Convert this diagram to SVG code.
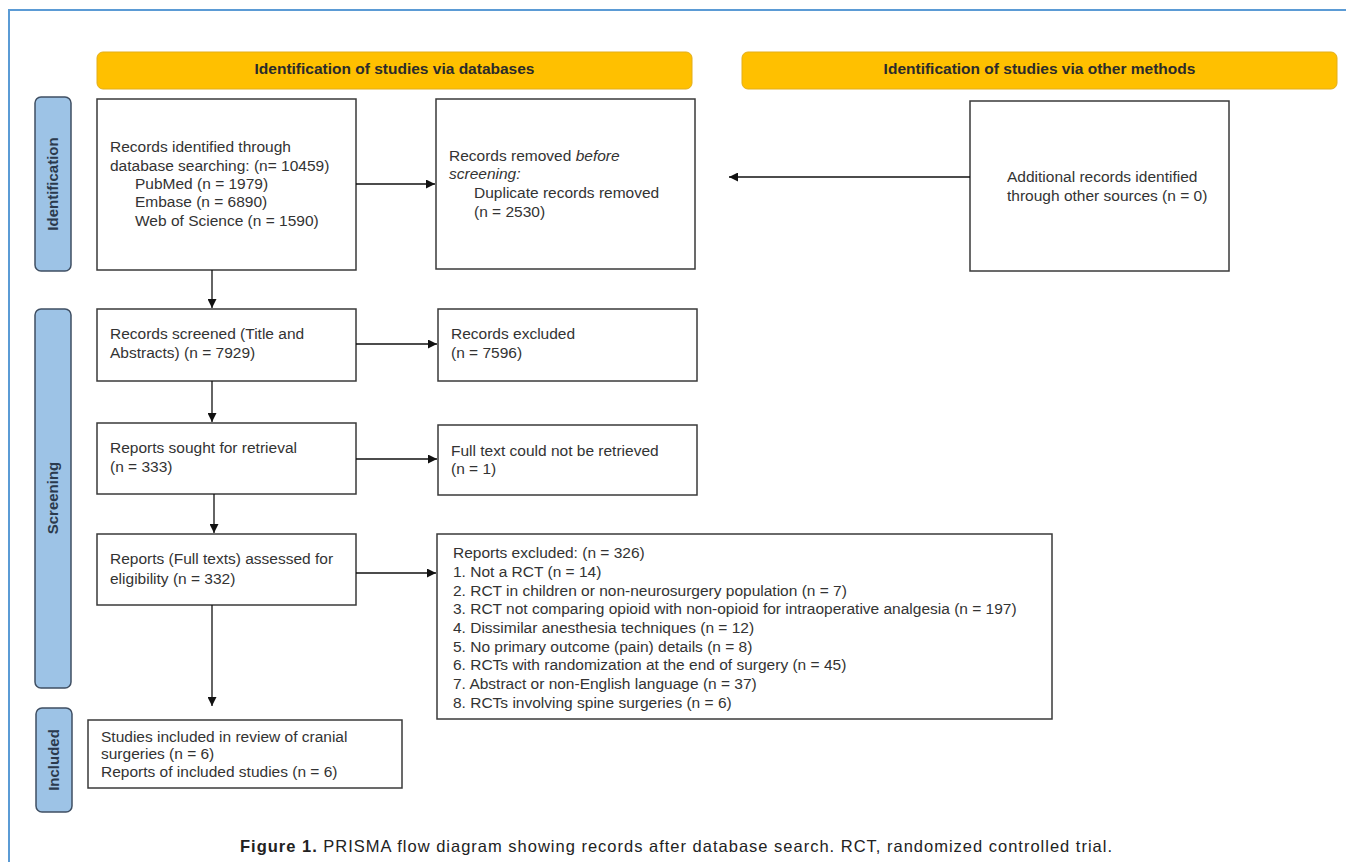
<svg xmlns="http://www.w3.org/2000/svg" width="1346" height="862" viewBox="0 0 1346 862">
<defs>
<marker id="ah" viewBox="0 0 10 10" refX="10" refY="5" markerWidth="9" markerHeight="9" markerUnits="userSpaceOnUse" orient="auto">
<path d="M0,0 L10,5 L0,10 z" fill="#111"/>
</marker>
<style>
.box{fill:#fff;stroke:#3a3a3a;stroke-width:1.5}
.hdr{fill:#FFC000;stroke:#E3AE1A;stroke-width:1}
.side{fill:#9DC3E6;stroke:#3F4F63;stroke-width:1.5}
.t{font-family:"Liberation Sans",Arial,sans-serif;font-size:15.5px;fill:#333}
.h{font-family:"Liberation Sans",Arial,sans-serif;font-size:15.5px;font-weight:bold;fill:#2b2b2b}
.s{font-family:"Liberation Sans",Arial,sans-serif;font-size:15px;font-weight:bold;fill:#2b3a4d}
.cap{font-family:"Liberation Sans",Arial,sans-serif;font-size:16.5px;fill:#222}
.ln{stroke:#111;stroke-width:1.3;fill:none;marker-end:url(#ah)}
</style>
</defs>
<rect width="1346" height="862" fill="#fff"/>
<path d="M9,862 L9,10 L1346,10" fill="none" stroke="#5B9BD5" stroke-width="2"/>

<g id="header-databases">
<rect class="hdr" x="97" y="52" width="595" height="37" rx="6"/>
<text class="h" x="394.5" y="74" text-anchor="middle">Identification of studies via databases</text>
</g>
<g id="header-other">
<rect class="hdr" x="742" y="52" width="595" height="37" rx="6"/>
<text class="h" x="1039.5" y="74" text-anchor="middle">Identification of studies via other methods</text>
</g>

<g id="side-identification">
<rect class="side" x="35" y="97" width="36" height="174" rx="6"/>
<text class="s" transform="translate(58,184) rotate(-90)" text-anchor="middle">Identification</text>
</g>
<g id="side-screening">
<rect class="side" x="35" y="309" width="36" height="379" rx="6"/>
<text class="s" transform="translate(58,498) rotate(-90)" text-anchor="middle">Screening</text>
</g>
<g id="side-included">
<rect class="side" x="36" y="708" width="36" height="104" rx="6"/>
<text class="s" transform="translate(59,760) rotate(-90)" text-anchor="middle">Included</text>
</g>

<g id="box-identified">
<rect class="box" x="97" y="99" width="259" height="171"/>
<text class="t" x="110" y="152">Records identified through</text>
<text class="t" x="110" y="171">database searching: (n= 10459)</text>
<text class="t" x="135" y="189">PubMed (n = 1979)</text>
<text class="t" x="135" y="207">Embase (n = 6890)</text>
<text class="t" x="135" y="226">Web of Science (n = 1590)</text>
</g>
<g id="box-removed">
<rect class="box" x="436" y="99" width="259" height="170"/>
<text class="t" x="449" y="161">Records removed <tspan font-style="italic">before</tspan></text>
<text class="t" x="449" y="179" font-style="italic">screening:</text>
<text class="t" x="474" y="198">Duplicate records removed</text>
<text class="t" x="474" y="217">(n = 2530)</text>
</g>
<g id="box-other">
<rect class="box" x="970" y="101" width="259" height="170"/>
<text class="t" x="1007" y="182">Additional records identified</text>
<text class="t" x="1007" y="201">through other sources (n = 0)</text>
</g>
<g id="box-screened">
<rect class="box" x="97" y="309" width="259" height="72"/>
<text class="t" x="110" y="339">Records screened (Title and</text>
<text class="t" x="110" y="358">Abstracts) (n = 7929)</text>
</g>
<g id="box-excluded">
<rect class="box" x="438" y="309" width="259" height="72"/>
<text class="t" x="451" y="339">Records excluded</text>
<text class="t" x="451" y="358">(n = 7596)</text>
</g>
<g id="box-sought">
<rect class="box" x="97" y="423" width="259" height="71"/>
<text class="t" x="110" y="453">Reports sought for retrieval</text>
<text class="t" x="110" y="472">(n = 333)</text>
</g>
<g id="box-notretrieved">
<rect class="box" x="438" y="425" width="259" height="70"/>
<text class="t" x="451" y="456">Full text could not be retrieved</text>
<text class="t" x="451" y="474">(n = 1)</text>
</g>
<g id="box-assessed">
<rect class="box" x="97" y="534" width="259" height="71"/>
<text class="t" x="110" y="564">Reports (Full texts) assessed for</text>
<text class="t" x="110" y="584">eligibility (n = 332)</text>
</g>
<g id="box-reports-excluded">
<rect class="box" x="437" y="534" width="615" height="185"/>
<text class="t" x="453" y="558">Reports excluded: (n = 326)</text>
<text class="t" x="453" y="577">1. Not a RCT  (n = 14)</text>
<text class="t" x="453" y="596">2. RCT  in children or non-neurosurgery population (n = 7)</text>
<text class="t" x="453" y="614">3. RCT  not comparing opioid with non-opioid for intraoperative analgesia (n = 197)</text>
<text class="t" x="453" y="633">4. Dissimilar anesthesia techniques (n = 12)</text>
<text class="t" x="453" y="652">5. No primary outcome (pain) details (n = 8)</text>
<text class="t" x="453" y="670">6. RCTs with randomization at the end of surgery (n = 45)</text>
<text class="t" x="453" y="689">7. Abstract or non-English language (n = 37)</text>
<text class="t" x="453" y="708">8. RCTs involving spine surgeries (n = 6)</text>
</g>
<g id="box-included">
<rect class="box" x="88" y="720" width="314" height="68"/>
<text class="t" x="101" y="742">Studies included in review of cranial</text>
<text class="t" x="101" y="759">surgeries (n = 6)</text>
<text class="t" x="101" y="777">Reports of included studies (n = 6)</text>
</g>

<g id="connectors">
<line class="ln" x1="356" y1="184" x2="435" y2="184"/>
<line class="ln" x1="970" y1="177" x2="729" y2="177"/>
<line class="ln" x1="212" y1="270" x2="212" y2="308"/>
<line class="ln" x1="356" y1="344" x2="437" y2="344"/>
<line class="ln" x1="212" y1="381" x2="212" y2="422"/>
<line class="ln" x1="356" y1="459" x2="437" y2="459"/>
<line class="ln" x1="214" y1="494" x2="214" y2="533"/>
<line class="ln" x1="356" y1="573" x2="436" y2="573"/>
<line class="ln" x1="212" y1="605" x2="212" y2="706"/>
</g>

<text class="cap" x="240" y="852" textLength="872"><tspan font-weight="bold">Figure 1.</tspan>  PRISMA flow diagram showing records after database search. RCT, randomized controlled trial.</text>
</svg>
